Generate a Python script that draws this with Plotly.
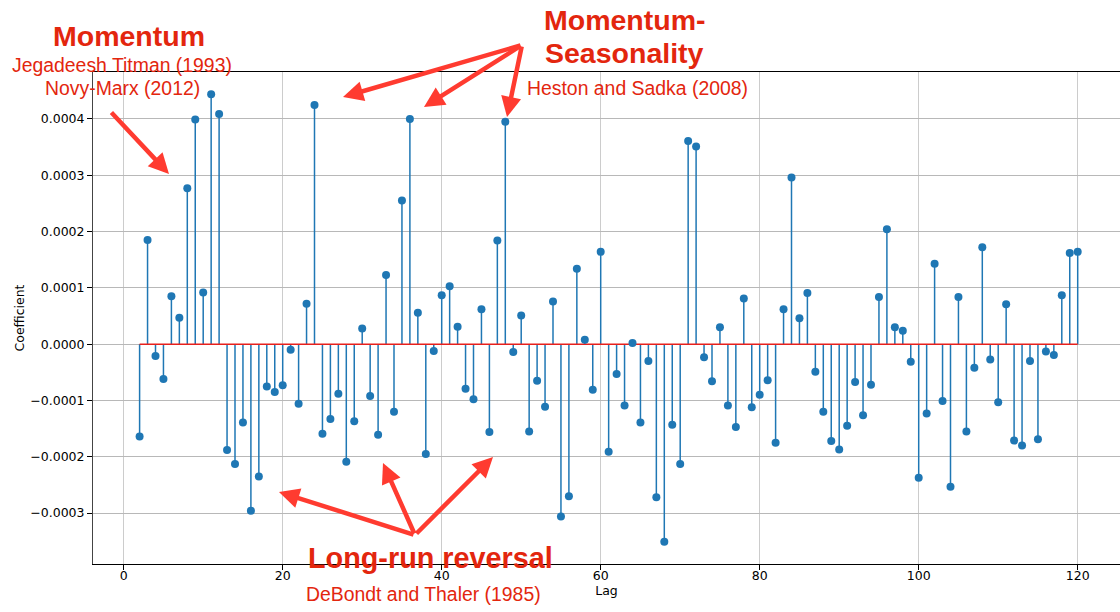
import plotly.graph_objects as go

# ---------------- data ----------------
lags = list(range(2, 121))
coef_e4 = [
    -1.64, 1.85, -0.21, -0.62, 0.85, 0.47, 2.77, 3.99, 0.92, 4.44,   # 2-11
    4.09, -1.88, -2.13, -1.39, -2.96, -2.35, -0.75, -0.85, -0.73, -0.10,  # 12-21
    -1.06, 0.72, 4.25, -1.59, -1.33, -0.88, -2.09, -1.37, 0.28, -0.92,  # 22-31
    -1.61, 1.23, -1.20, 2.55, 4.00, 0.56, -1.95, -0.12, 0.87, 1.03,     # 32-41
    0.31, -0.79, -0.98, 0.62, -1.56, 1.84, 3.95, -0.14, 0.51, -1.55,    # 42-51
    -0.65, -1.11, 0.76, -3.06, -2.70, 1.34, 0.08, -0.81, 1.64, -1.91,   # 52-61
    -0.53, -1.09, 0.02, -1.39, -0.30, -2.72, -3.51, -1.43, -2.13, 3.61, # 62-71
    3.51, -0.23, -0.66, 0.30, -1.09, -1.47, 0.81, -1.12, -0.90, -0.64,  # 72-81
    -1.75, 0.62, 2.96, 0.46, 0.91, -0.49, -1.20, -1.72, -1.87, -1.45,   # 82-91
    -0.67, -1.26, -0.72, 0.84, 2.04, 0.30, 0.24, -0.31, -2.37, -1.23,   # 92-101
    1.43, -1.01, -2.53, 0.84, -1.55, -0.42, 1.72, -0.27, -1.03, 0.71,   # 102-111
    -1.71, -1.80, -0.30, -1.69, -0.13, -0.19, 0.87, 1.62, 1.64,         # 112-120
]
coef = [v * 1e-4 for v in coef_e4]

x_ticks = [0, 20, 40, 60, 80, 100, 120]
y_ticks = [-0.0003, -0.0002, -0.0001, 0.0, 0.0001, 0.0002, 0.0003, 0.0004]

# ---------------- layout geometry ----------------
# the page body margin is removed (post_script) so the figure fills the window
W, H = 1120, 612
ML, MT = 93, 72
MR, MB = 0, H - 564
PW, PH = W - ML - MR, H - MT - MB

def paper(px, py):
    return (px - ML) / PW, (H - MB - py) / PH

TEXT_RED = "#e3260e"
ARROW_RED = "#ff3b30"
BLUE = "#1f77b4"

# stems
sx, sy = [], []
for l, v in zip(lags, coef):
    sx += [l, l, None]
    sy += [0, v, None]

fig = go.Figure()
fig.add_trace(go.Scatter(x=sx, y=sy, mode="lines",
                         line=dict(color=BLUE, width=1.5),
                         hoverinfo="skip", showlegend=False))
fig.add_trace(go.Scatter(x=[lags[0], lags[-1]], y=[0, 0], mode="lines",
                         line=dict(color="#e8201c", width=1.5),
                         hoverinfo="skip", showlegend=False))
fig.add_trace(go.Scatter(x=lags, y=coef, mode="markers",
                         marker=dict(color=BLUE, size=8),
                         showlegend=False))

annotations = []

def text(s, px, py, size, bold=False):
    x, y = paper(px, py)
    annotations.append(dict(
        x=x, y=y, xref="paper", yref="paper", showarrow=False,
        text=f"<b>{s}</b>" if bold else s,
        xanchor="center", yanchor="middle",
        font=dict(family="Liberation Sans, Arial, sans-serif",
                  size=size, color=TEXT_RED)))

def arrow(tail, tip):
    x, y = paper(*tip)
    annotations.append(dict(
        x=x, y=y, xref="paper", yref="paper", text="", showarrow=True,
        ax=tail[0] - tip[0], ay=tail[1] - tip[1], axref="pixel", ayref="pixel",
        arrowhead=2, arrowsize=0.9, arrowwidth=4.5, arrowcolor=ARROW_RED,
        standoff=0, startstandoff=0))

text("Momentum", 129, 36.5, 28.5, bold=True)
text("Jegadeesh Titman (1993)", 122, 64.5, 19.4)
text("Novy-Marx (2012)", 122, 87.5, 19.4)
text("Momentum-", 624, 20.5, 28.5, bold=True)
text("Seasonality", 624, 52.5, 28.5, bold=True)
text("Heston and Sadka (2008)", 637, 87.5, 19.4)
text("Long-run reversal", 430, 557.5, 28.8, bold=True)
text("DeBondt and Thaler (1985)", 423, 593.5, 19.4)

arrow((110, 111), (169, 174))
arrow((522, 45), (343, 97))
arrow((522, 45), (424, 107))
arrow((522, 45), (507, 117))
arrow((415, 535), (279, 492))
arrow((415, 535), (383, 463))
arrow((415, 535), (493, 457))

tick_font = dict(family="DejaVu Sans, sans-serif", size=12.5, color="black")

# x range: lag 0 sits at px 123.7, 7.95 px per lag
x_left = (ML - 123.7) / 7.95
x_right = (W - MR - 123.7) / 7.95

fig.update_layout(
    width=W, height=H,
    margin=dict(l=ML, r=MR, t=MT, b=MB, autoexpand=False),
    paper_bgcolor="white", plot_bgcolor="white",
    annotations=annotations,
    xaxis=dict(range=[x_left, x_right], tickvals=x_ticks, ticks="outside",
               ticklen=5, tickcolor="black", tickfont=tick_font,
               ticklabelstandoff=-5,
               showgrid=True, gridcolor="#cccccc", gridwidth=1,
               zeroline=False, showline=True, linecolor="black",
               linewidth=1, mirror=True, automargin=False,
               title=dict(text="Lag", font=tick_font, standoff=0)),
    yaxis=dict(range=[-3.904e-4, 4.834e-4], tickvals=y_ticks,
               tickformat=".4f", ticks="outside", ticklen=5,
               tickcolor="black", tickfont=tick_font,
               showgrid=True, gridcolor="#b8b8b8", gridwidth=1,
               zeroline=False, showline=True, linecolor="#444444",
               linewidth=1, mirror=False, automargin=False,
               title=dict(text="Coefficient", font=tick_font, standoff=2)),
)

fig.write_html("out.html",
               config={"displayModeBar": False},
               post_script="document.body.style.margin='0';"
                           "document.body.style.overflow='hidden';")
